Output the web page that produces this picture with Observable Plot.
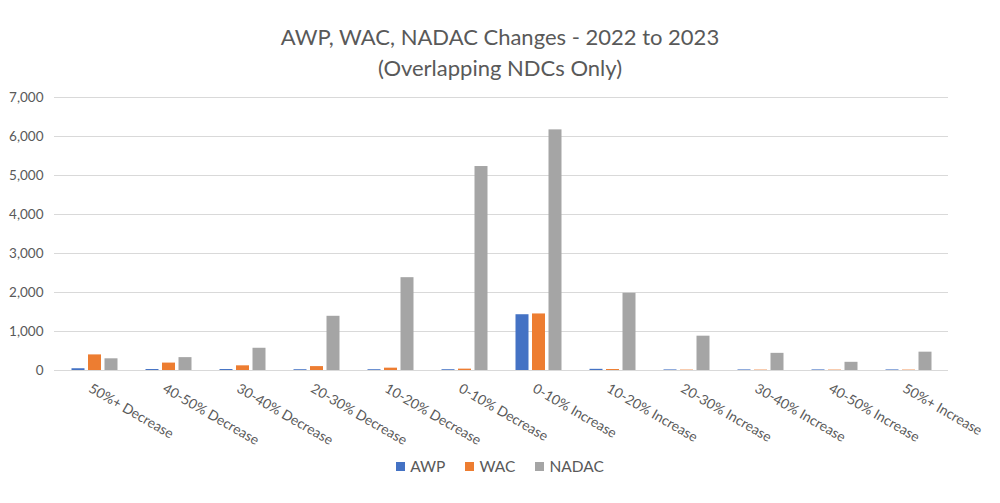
<!DOCTYPE html>
<html>
<head>
<meta charset="utf-8">
<script src="https://cdn.jsdelivr.net/npm/d3@7"></script>
<script src="https://cdn.jsdelivr.net/npm/@observablehq/plot@0.6"></script>
<style>
  html, body { margin: 0; padding: 0; background: #fff; }
  body { width: 1000px; height: 503px; overflow: hidden; font-family: Lato, "Open Sans", sans-serif; color: #595959; }
  #title { box-sizing: border-box; height: 85px; padding-top: 21px; text-align: center; font-size: 22px; line-height: 31px; color: #595959; }
  #legend { display: flex; justify-content: center; align-items: center; height: 32px; font-size: 15.5px; color: #595959; }
  .item { display: flex; align-items: center; margin: 0 10px; }
  .sw { width: 9px; height: 9px; margin-right: 5px; }
</style>
</head>
<body>
<div id="title">AWP, WAC, NADAC Changes - 2022 to 2023<br>(Overlapping NDCs Only)</div>
<div id="chart"></div>
<div id="legend"></div>
<script>
const categories = ["50%+ Decrease","40-50% Decrease","30-40% Decrease","20-30% Decrease","10-20% Decrease","0-10% Decrease","0-10% Increase","10-20% Increase","20-30% Increase","30-40% Increase","40-50% Increase","50%+ Increase"];
const seriesNames = ["AWP", "WAC", "NADAC"];
const awp   = [45, 25, 25, 20, 20, 20, 1430, 30, 15, 15, 15, 15];
const wac   = [400, 190, 120, 100, 60, 35, 1450, 25, 10, 10, 10, 10];
const nadac = [300, 330, 570, 1390, 2380, 5230, 6170, 1980, 880, 440, 210, 470];
const yTicks = [0, 1000, 2000, 3000, 4000, 5000, 6000, 7000];
const colors = ["#4472C4", "#ED7D31", "#A5A5A5"];

const seriesValues = [awp, wac, nadac];
const rows = [];
seriesNames.forEach((s, si) => categories.forEach((c, ci) => rows.push({category: c, series: s, value: seriesValues[si][ci]})));

const offsets = [-16.5, 0, 16.5];

const chart = Plot.plot({
  width: 1000,
  height: 365,
  marginLeft: 54,
  marginRight: 52,
  marginTop: 12,
  marginBottom: 80,
  style: {fontFamily: "Lato, 'Open Sans', sans-serif", fontSize: "13px", color: "#595959", background: "white"},
  x: {domain: categories, paddingInner: 0.825, paddingOuter: 0.4125, label: null},
  y: {domain: [0, 7000], label: null},
  marks: [
    Plot.ruleY(yTicks, {stroke: "#d9d9d9", strokeWidth: 1}),
    ...seriesNames.map((s, i) => Plot.barY(rows.filter(d => d.series === s), {
      x: "category", y: "value", fill: colors[i], dx: offsets[i]
    })),
    Plot.axisY(yTicks, {tickSize: 0, tickPadding: 11, tickFormat: d3.format(","), fontSize: 13.5, label: null}),
    Plot.axisX({tickSize: 0, tickPadding: 17, tickRotate: 30, dx: -5, fontSize: 13.8, label: null})
  ]
});
document.getElementById("chart").appendChild(chart);

const legend = document.getElementById("legend");
seriesNames.forEach((s, i) => {
  const item = document.createElement("div");
  item.className = "item";
  const sw = document.createElement("span");
  sw.className = "sw";
  sw.style.background = colors[i];
  const t = document.createElement("span");
  t.textContent = s;
  item.appendChild(sw); item.appendChild(t);
  legend.appendChild(item);
});
</script>
</body>
</html>
